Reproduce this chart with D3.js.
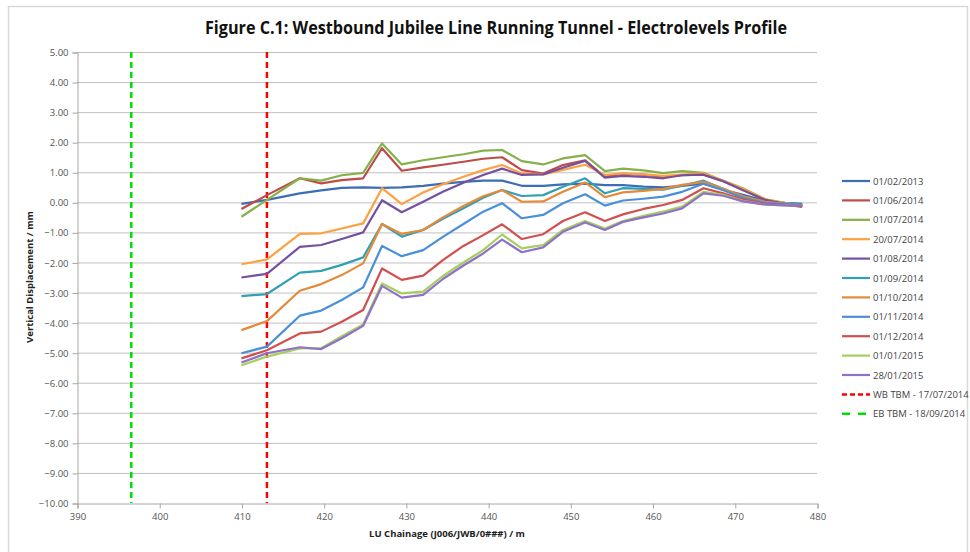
<!DOCTYPE html>
<html>
<head>
<meta charset="utf-8">
<script src="https://cdnjs.cloudflare.com/ajax/libs/d3/7.8.5/d3.min.js"></script>
<style>
  body { margin: 0; background: #fff; }
  svg { display: block; font-family: "Open Sans", "Liberation Sans", sans-serif; }
</style>
</head>
<body>
<svg id="chart" width="970" height="552"></svg>
<script>
// Data
const chainage = [410, 413.1, 417.1, 419.7, 422.2, 424.8, 427.1, 429.5, 432.1, 434.5, 437.0, 439.4, 441.7, 444.1,
  446.7, 449.1, 451.8, 454.2, 456.4, 458.9, 461.3, 463.6, 466.2, 468.6, 471.0, 473.7, 476.1, 478.2];

const s20130201 = [-0.05, 0.08, 0.30, 0.40, 0.48, 0.50, 0.48, 0.50, 0.55, 0.62, 0.68, 0.72, 0.72, 0.55, 0.55, 0.60, 0.62, 0.57, 0.57, 0.52, 0.50, 0.55, 0.62, 0.42, 0.25, 0.05, -0.02, -0.05];
const s20140601 = [-0.22, 0.24, 0.80, 0.63, 0.74, 0.80, 1.80, 1.05, 1.16, 1.25, 1.35, 1.45, 1.50, 1.07, 0.96, 1.24, 1.40, 0.85, 0.95, 0.92, 0.85, 0.90, 0.92, 0.70, 0.42, 0.08, -0.08, -0.15];
const s20140701 = [-0.48, 0.08, 0.80, 0.72, 0.90, 0.98, 1.96, 1.26, 1.40, 1.50, 1.60, 1.72, 1.74, 1.37, 1.26, 1.46, 1.57, 1.04, 1.12, 1.06, 0.97, 1.04, 0.98, 0.72, 0.47, 0.10, -0.02, -0.10];
const s20140720 = [-2.06, -1.90, -1.05, -1.03, -0.87, -0.70, 0.47, -0.06, 0.33, 0.60, 0.85, 1.07, 1.24, 0.96, 0.93, 1.08, 1.25, 0.91, 0.96, 0.93, 0.88, 0.92, 0.97, 0.72, 0.45, 0.10, -0.03, -0.10];
const s20140801 = [-2.50, -2.38, -1.48, -1.42, -1.22, -1.00, 0.07, -0.33, 0.02, 0.35, 0.65, 0.91, 1.12, 0.91, 0.93, 1.15, 1.38, 0.82, 0.88, 0.85, 0.80, 0.90, 0.92, 0.70, 0.40, 0.08, -0.05, -0.12];
const s20140901 = [-3.12, -3.05, -2.34, -2.28, -2.08, -1.83, -0.72, -1.14, -0.92, -0.55, -0.20, 0.15, 0.41, 0.21, 0.24, 0.52, 0.80, 0.30, 0.47, 0.45, 0.42, 0.55, 0.72, 0.45, 0.18, 0.00, -0.05, -0.08];
const s20141001 = [-4.25, -3.95, -2.94, -2.72, -2.42, -2.03, -0.72, -1.05, -0.92, -0.50, -0.12, 0.20, 0.41, 0.02, 0.03, 0.35, 0.66, 0.17, 0.33, 0.38, 0.45, 0.58, 0.68, 0.45, 0.20, 0.02, -0.05, -0.10];
const s20141101 = [-5.02, -4.80, -3.77, -3.60, -3.25, -2.83, -1.45, -1.79, -1.59, -1.15, -0.72, -0.31, -0.03, -0.53, -0.42, -0.03, 0.27, -0.11, 0.06, 0.12, 0.19, 0.35, 0.62, 0.40, 0.15, -0.02, -0.05, -0.08];
const s20141201 = [-5.19, -4.92, -4.36, -4.30, -3.97, -3.58, -2.20, -2.58, -2.44, -1.92, -1.45, -1.09, -0.73, -1.22, -1.06, -0.62, -0.33, -0.62, -0.40, -0.22, -0.09, 0.08, 0.47, 0.30, 0.10, -0.05, -0.08, -0.12];
const s20150101 = [-5.42, -5.13, -4.86, -4.85, -4.45, -4.06, -2.70, -3.03, -2.97, -2.45, -2.00, -1.59, -1.07, -1.53, -1.42, -0.92, -0.62, -0.87, -0.62, -0.45, -0.31, -0.14, 0.35, 0.25, 0.05, -0.08, -0.10, -0.12];
const s20150128 = [-5.33, -5.02, -4.82, -4.88, -4.52, -4.11, -2.78, -3.17, -3.08, -2.55, -2.10, -1.70, -1.24, -1.66, -1.50, -0.98, -0.67, -0.92, -0.65, -0.50, -0.37, -0.20, 0.30, 0.22, 0.03, -0.07, -0.10, -0.12];

const seriesNames = ["01/02/2013", "01/06/2014", "01/07/2014", "20/07/2014", "01/08/2014", "01/09/2014",
  "01/10/2014", "01/11/2014", "01/12/2014", "01/01/2015", "28/01/2015"];
const seriesValues = [s20130201, s20140601, s20140701, s20140720, s20140801, s20140901,
  s20141001, s20141101, s20141201, s20150101, s20150128];

const tbmNames = ["WB TBM - 17/07/2014", "EB TBM - 18/09/2014"];
const tbmChainage = [413.1, 396.6];

const xTicks = [390, 400, 410, 420, 430, 440, 450, 460, 470, 480];
const yTicks = [5, 4, 3, 2, 1, 0, -1, -2, -3, -4, -5, -6, -7, -8, -9, -10];

// Styling
const COLORS = ["#3d6db5", "#be4b48", "#86b04a", "#ffa040", "#7550a0", "#32a0b4",
  "#e48a38", "#4a90d9", "#d0504e", "#a5cf5c", "#9070c8"];
const TBM_COLORS = ["#ff0000", "#00e000"];

const svg = d3.select("#chart");
const margin = { top: 52, left: 77, right: 153, bottom: 49 };
const W = 970, H = 552;

// frame
svg.append("rect")
  .attr("x", 8.5).attr("y", 6.5).attr("width", 959).attr("height", 560)
  .attr("fill", "none").attr("stroke", "#d9d9d9").attr("stroke-width", 1.5);

const x = d3.scaleLinear().domain([390, 480]).range([margin.left, W - margin.right]);
const y = d3.scaleLinear().domain([-10, 5]).range([H - margin.bottom, margin.top]);

// title
svg.append("text")
  .attr("x", 496).attr("y", 34)
  .attr("text-anchor", "middle")
  .attr("font-size", 17).attr("font-weight", "bold").attr("fill", "#111")
  .attr("textLength", 582).attr("lengthAdjust", "spacingAndGlyphs")
  .text("Figure C.1: Westbound Jubilee Line Running Tunnel - Electrolevels Profile");

// grid
svg.append("g")
  .selectAll("line")
  .data(yTicks.filter(d => d !== -10))
  .join("line")
  .attr("x1", x(390)).attr("x2", x(480))
  .attr("y1", d => y(d) + 0.5).attr("y2", d => y(d) + 0.5)
  .attr("stroke", "#c0c0c0").attr("stroke-width", 1);

// axes
const yAxis = d3.axisLeft(y).tickValues(yTicks).tickFormat(d3.format(".2f")).tickSize(5).tickPadding(4);
const gy = svg.append("g").attr("transform", `translate(${x(390) + 0.5},0.5)`).call(yAxis);
const xAxis = d3.axisBottom(x).tickValues(xTicks).tickSize(5).tickPadding(5);
const gx = svg.append("g").attr("transform", `translate(0.5,${y(-10) + 0.5})`).call(xAxis);
[gx, gy].forEach(g => {
  g.select(".domain").attr("stroke", "#a6a6a6");
  g.selectAll(".tick line").attr("stroke", "#a6a6a6");
  g.selectAll(".tick text").attr("fill", "#555").attr("font-size", 9.5)
    .attr("font-family", "'Open Sans', sans-serif");
});

// axis titles
svg.append("text")
  .attr("x", 447).attr("y", 537).attr("text-anchor", "middle")
  .attr("font-size", 9.5).attr("font-weight", "bold").attr("fill", "#222")
  .text("LU Chainage (J006/JWB/0###) / m");
svg.append("text")
  .attr("transform", "translate(33,277) rotate(-90)").attr("text-anchor", "middle")
  .attr("font-size", 9.5).attr("font-weight", "bold").attr("fill", "#222")
  .text("Vertical Displacement / mm");

// TBM markers
tbmChainage.forEach((c, i) => {
  svg.append("line")
    .attr("x1", x(c)).attr("x2", x(c))
    .attr("y1", y(5)).attr("y2", y(-10))
    .attr("stroke", TBM_COLORS[i]).attr("stroke-width", 2.5)
    .attr("stroke-dasharray", "6,4");
});

// series
const line = d3.line().x((d, i) => x(chainage[i])).y(d => y(d));
svg.append("g")
  .selectAll("path")
  .data(seriesValues)
  .join("path")
  .attr("d", d => line(d))
  .attr("fill", "none")
  .attr("stroke", (d, i) => COLORS[i])
  .attr("stroke-width", 2.2)
  .attr("stroke-linejoin", "round");

// legend
const legendItems = seriesNames.map((n, i) => ({ name: n, color: COLORS[i], dash: null }))
  .concat(tbmNames.map((n, i) => ({ name: n, color: TBM_COLORS[i], dash: i === 0 ? "5,3" : "8,8" })));
const lg = svg.append("g").attr("transform", "translate(842,181)");
const rows = lg.selectAll("g").data(legendItems).join("g")
  .attr("transform", (d, i) => `translate(0,${i * 19.4})`);
rows.append("line")
  .attr("x1", 0).attr("x2", 28)
  .attr("stroke", d => d.color).attr("stroke-width", d => d.dash ? 2.5 : 2.2)
  .attr("stroke-dasharray", d => d.dash);
rows.append("text")
  .attr("x", 31).attr("y", 3.5)
  .attr("font-size", 9.5).attr("fill", "#444")
  .text(d => d.name);
</script>
</body>
</html>
